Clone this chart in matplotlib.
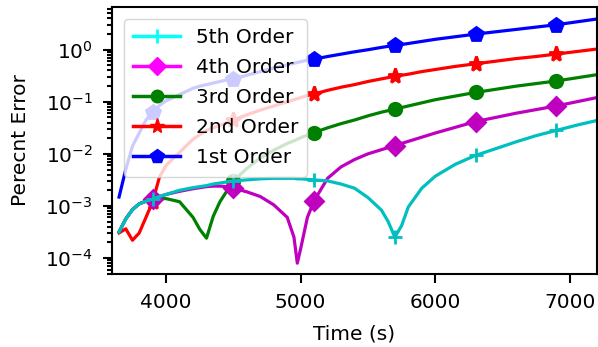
#import matplotlib
import matplotlib
matplotlib.use('Agg')
import matplotlib.pyplot as plt
from matplotlib.lines import Line2D

#time values (s)
time = [3650, 3700, 3750, 3800, 3850, 3900, 3950, 4000,
        4100, 4200, 4250, 4300, 4350, 4400, 4450, 4500,
        4600, 4700, 4800, 4900, 4950, 4975, 5000, 5050, 5100,
        5200, 5300, 5400, 5500, 5600, 5650, 5700, 5750, 5800,
        5900, 6000, 6150, 6300, 6450, 6600, 6750, 6900, 7050, 7200]
#times that get a marker
mark_times = [3900, 4500, 5100, 5700, 6300, 6900]

#log10 of the percent error
order5 = [-3.5, -3.25, -3.07, -2.96, -2.91, -2.87, -2.82, -2.78,
          -2.7, -2.65, -2.63, -2.61, -2.58, -2.56, -2.54, -2.52,
          -2.5, -2.48, -2.47, -2.47, -2.47, -2.48, -2.48, -2.49, -2.5,
          -2.52, -2.58, -2.66, -2.84, -3.08, -3.3, -3.6, -3.38, -3.02,
          -2.66, -2.43, -2.2, -2.03, -1.9, -1.77, -1.65, -1.55, -1.45, -1.36]
order4 = [-3.5, -3.25, -3.07, -2.96, -2.91, -2.87, -2.82, -2.78,
          -2.72, -2.67, -2.65, -2.63, -2.62, -2.62, -2.63, -2.66,
          -2.73, -2.82, -2.98, -3.22, -3.6, -4.1, -3.82, -3.22, -2.9,
          -2.47, -2.25, -2.11, -2.0, -1.92, -1.88, -1.84, -1.8, -1.76,
          -1.68, -1.6, -1.49, -1.38, -1.3, -1.22, -1.15, -1.08, -1.0, -0.92]
order3 = [-3.5, -3.25, -3.07, -2.96, -2.91, -2.87, -2.86, -2.86,
          -2.92, -3.22, -3.45, -3.62, -3.2, -2.92, -2.72, -2.52,
          -2.28, -2.08, -1.93, -1.8, -1.75, -1.72, -1.69, -1.64, -1.59,
          -1.5, -1.42, -1.35, -1.27, -1.2, -1.17, -1.14, -1.11, -1.08,
          -1.02, -0.96, -0.89, -0.82, -0.76, -0.7, -0.65, -0.6, -0.54, -0.48]
order2 = [-3.52, -3.44, -3.66, -3.52, -3.22, -2.92, -2.45, -2.22,
          -1.97, -1.72, -1.63, -1.55, -1.5, -1.45, -1.4, -1.35,
          -1.25, -1.16, -1.08, -1.0, -0.96, -0.94, -0.92, -0.88, -0.85,
          -0.78, -0.72, -0.67, -0.61, -0.56, -0.535, -0.51, -0.49, -0.47,
          -0.42, -0.38, -0.32, -0.27, -0.22, -0.17, -0.13, -0.083, -0.035, 0.013]
order1 = [-2.83, -2.3, -1.85, -1.6, -1.35, -1.2, -1.07, -0.98,
          -0.86, -0.74, -0.7, -0.67, -0.64, -0.61, -0.58, -0.56,
          -0.49, -0.42, -0.35, -0.29, -0.26, -0.245, -0.23, -0.2, -0.18,
          -0.13, -0.085, -0.04, 0.0, 0.045, 0.065, 0.083, 0.1, 0.12,
          0.16, 0.2, 0.25, 0.3, 0.345, 0.39, 0.435, 0.48, 0.535, 0.59]

labels = ['5th Order', '4th Order', '3rd Order', '2nd Order', '1st Order']

plt.rcParams['font.family'] = 'DejaVu Sans'
fig = plt.figure(figsize=(5.98, 3.47), dpi=100)
ax = fig.add_axes([0.1878, 0.2104, 0.8100, 0.7694])

marks = [time.index(m) for m in mark_times]

#draw 1st order first so 5th order is on top
series = [(order1, 'b', 'p', 10), (order2, 'r', '*', 11), (order3, 'g', 'o', 9),
          (order4, 'm', 'D', 9), (order5, 'c', '+', 10)]
for vals, col, mk, ms in series:
    ax.plot(time, [10 ** v for v in vals], color=col, lw=2.3, marker=mk,
            ms=ms, mew=2, markevery=marks)

fs = 14.5
ax.set_yscale('log')
ax.set_xlim(3600, 7200)
ax.set_ylim(4.92e-5, 6.62)
ax.set_xticks([4000, 5000, 6000, 7000])
ax.set_yticks([1e-4, 1e-3, 1e-2, 1e-1, 1])
ax.set_xlabel('Time (s)', fontsize=fs, labelpad=9)
ax.set_ylabel('Perecnt Error', fontsize=fs, labelpad=11)
ax.tick_params(which='both', direction='out', labelsize=fs, width=1.5, pad=7.5)
ax.tick_params(which='major', length=6.5)
ax.tick_params(which='minor', length=3.6)
for s in ax.spines.values():
    s.set_linewidth(1.5)

#legend with brighter colours like the original
handles = [Line2D([], [], color='cyan', lw=2.5, marker='+', ms=10, mew=2),
           Line2D([], [], color='magenta', lw=2.5, marker='D', ms=9),
           Line2D([], [], color='green', lw=2.5, marker='o', ms=9),
           Line2D([], [], color='red', lw=2.5, marker='*', ms=11),
           Line2D([], [], color='blue', lw=2.5, marker='p', ms=10)]
ax.legend(handles, labels, loc='upper left', fontsize=fs, handlelength=2.3,
          handletextpad=0.8, labelspacing=0.55, borderpad=0.45,
          borderaxespad=0.6, framealpha=0.8, fancybox=True, edgecolor='0.8')

fig.savefig('out.png', dpi=100)
